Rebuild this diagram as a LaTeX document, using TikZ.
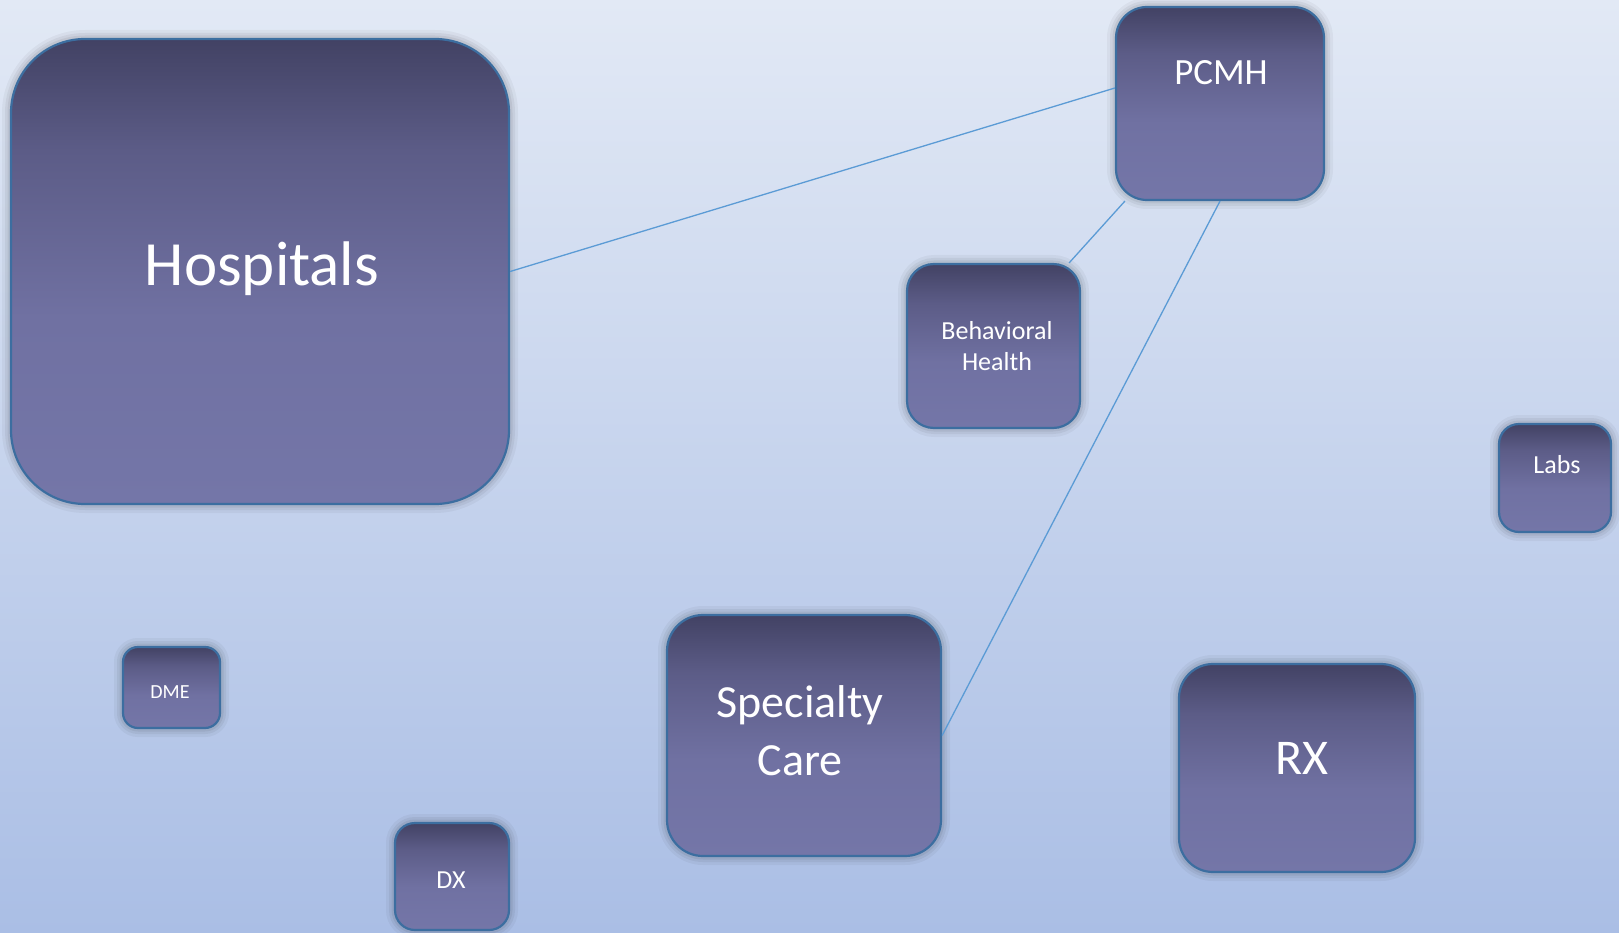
\documentclass[tikz,border=0pt]{standalone}
\usepackage{fontspec}
\setmainfont{Carlito}
\definecolor{bgtop}{RGB}{226,233,245}
\definecolor{bgbot}{RGB}{170,190,229}
\definecolor{boxdark}{RGB}{66,66,100}
\definecolor{boxmid}{RGB}{92,92,135}
\definecolor{boxlow}{RGB}{112,113,162}
\definecolor{boxlight}{RGB}{116,118,168}
\definecolor{boxedge}{RGB}{60,110,160}
\definecolor{linkc}{RGB}{91,155,213}
\pgfdeclareverticalshading{boxshade}{100bp}{color(0bp)=(boxlight); color(25bp)=(boxlight); color(45bp)=(boxlow); color(63bp)=(boxmid); color(75bp)=(boxdark); color(100bp)=(boxdark)}
\tikzset{
  box/.style={rectangle, inner sep=0pt, draw=boxedge, line width=2.2pt, shade, shading=boxshade,
    preaction={draw=black, draw opacity=0.04, line width=18pt},
    preaction={draw=black, draw opacity=0.05, line width=12pt},
    preaction={draw=black, draw opacity=0.06, line width=7pt}},
  lbl/.style={text=white, align=center, inner sep=0pt},
  link/.style={draw=linkc, line width=1.3pt}
}
\begin{document}
\begin{tikzpicture}[x=1pt,y=-1pt]
\useasboundingbox (0,0) rectangle (1619,933);
\shade[top color=bgtop, bottom color=bgbot] (0,0) rectangle (1619,933);

% boxes
\node[box, minimum width=498pt, minimum height=465pt, rounded corners=74pt] (hosp) at (260,271.5) {};
\node[box, minimum width=208pt, minimum height=193pt, rounded corners=31pt] (pcmh) at (1220,103.5) {};
\node[box, minimum width=173pt, minimum height=164pt, rounded corners=27pt] (beh) at (993.5,346) {};
\node[box, minimum width=112pt, minimum height=108pt, rounded corners=20pt] (labs) at (1555,478) {};
\node[box, minimum width=97pt, minimum height=81pt, rounded corners=15pt] (dme) at (171.5,687.5) {};
\node[box, minimum width=114pt, minimum height=107pt, rounded corners=20pt] (dx) at (452,876.5) {};
\node[box, minimum width=274pt, minimum height=241pt, rounded corners=36pt] (spec) at (804,735.5) {};
\node[box, minimum width=236pt, minimum height=208pt, rounded corners=34pt] (rx) at (1297,768) {};

% labels
\node[lbl, anchor=base, font=\fontsize{63}{76}\selectfont] (hosp-t) at (262,285.7) {Hospitals};
\node[lbl, anchor=base, font=\fontsize{37}{44}\selectfont] (pcmh-t) at (1221,85) {PCMH};
\node[lbl, font=\fontsize{26}{31}\selectfont] (beh-t) at (997,346) {Behavioral\\Health};
\node[lbl, anchor=base, font=\fontsize{26}{31}\selectfont] (labs-t) at (1557,473) {Labs};
\node[lbl, anchor=base, font=\fontsize{20}{24}\selectfont] (dme-t) at (170,698) {DME};
\node[lbl, anchor=base, font=\fontsize{26}{31}\selectfont] (dx-t) at (451,888) {DX};
\node[lbl, font=\fontsize{46}{58}\selectfont] (spec-t) at (800,731) {Specialty\\Care};
\node[lbl, anchor=base, font=\fontsize{50}{60}\selectfont] (rx-t) at (1302,774) {RX};

% connectors
\draw[link] (hosp.east) -- ([yshift=15.5pt]pcmh.west);
\draw[link] ([xshift=10pt]pcmh.south west) -- ([xshift=-12pt]beh.north east);
\draw[link] (pcmh.south) -- (spec.east);
\end{tikzpicture}
\end{document}
